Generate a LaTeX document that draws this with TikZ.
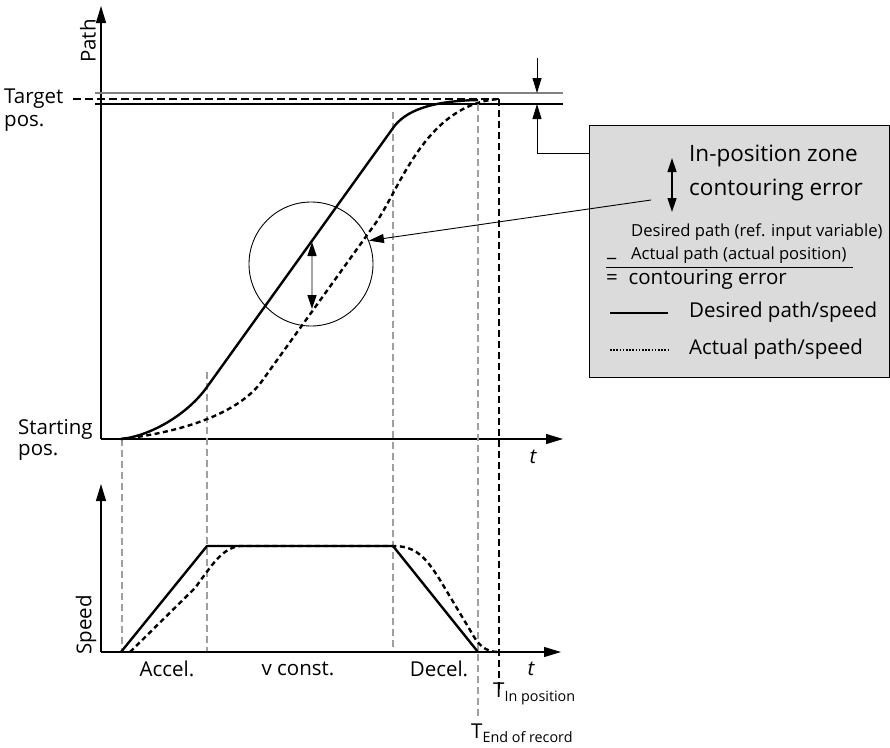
\documentclass[tikz,border=0pt]{standalone}
\usepackage{fontspec}
\setmainfont{Open Sans}
\usetikzlibrary{arrows.meta}
\begin{document}
\begin{tikzpicture}[x=1pt,y=-1pt,
  ax/.style={line width=1.2pt,-{Triangle[length=17pt,width=10pt]}},
  vdash/.style={gray!75,line width=1.1pt,dash pattern=on 7pt off 4pt},
  vdashk/.style={black,line width=1.1pt,dash pattern=on 7pt off 4pt},
  curve/.style={line width=2.4pt,line join=round},
  dcurve/.style={line width=2.4pt,dash pattern=on 5pt off 3.5pt},
  lbl/.style={font=\fontsize{20.5}{24}\selectfont,inner sep=0pt},
  blbl/.style={font=\fontsize{22.5}{26}\selectfont,inner sep=0pt},
  slbl/.style={font=\fontsize{16.6}{19}\selectfont,inner sep=0pt},
  tip/.style={-{Triangle[length=15pt,width=9pt]}},
  dtip/.style={{Triangle[length=14pt,width=9pt]}-{Triangle[length=14pt,width=9pt]}},
]
\useasboundingbox (0,0) rectangle (890,747);
% ---------- upper axes
\coordinate (o1) at (101,439);
\coordinate (y1) at (101,6);
\coordinate (x1) at (563,439);
\draw[ax] (o1) -- (y1);
\draw[ax] (o1) -- (x1);
\node[lbl,rotate=90] (path) at (88,41) {Path};
\node[lbl,anchor=west] (tgt) at (4,99) {Target};
\node[lbl,anchor=west] (tgtp) at (4,123) {pos.};
\node[lbl,anchor=west] (st) at (18,429) {Starting};
\node[lbl,anchor=west] (stp) at (18,452) {pos.};
\node[lbl,font=\fontsize{20.5}{24}\selectfont\itshape] (t1) at (533,457) {t};
% ---------- horizontal lines at target
\coordinate (g0) at (95,93);  \coordinate (g1) at (563,93);
\coordinate (b0) at (95,104); \coordinate (b1) at (563,104);
\coordinate (d0) at (73,99);  \coordinate (d1) at (499,99);
\draw[gray,line width=1.6pt] (g0) -- (g1);
\draw[line width=1.2pt] (b0) -- (b1);
\draw[line width=1.1pt,dash pattern=on 8pt off 4pt] (d0) -- (d1);
% ---------- vertical dashed lines
\coordinate (va0) at (122,439); \coordinate (va1) at (122,652);
\coordinate (vb0) at (207,372); \coordinate (vb1) at (207,652);
\coordinate (vc0) at (393,112); \coordinate (vc1) at (393,652);
\coordinate (vd0) at (478,104); \coordinate (vd1) at (478,716);
\coordinate (ve0) at (499,99);  \coordinate (ve1) at (499,690);
\draw[vdash] (va0) -- (va1);
\draw[vdash] (vb0) -- (vb1);
\draw[vdash] (vc0) -- (vc1);
\draw[vdash] (vd0) -- (vd1);
\draw[vdashk] (ve0) -- (ve1);
% ---------- upper curves
\coordinate (s0) at (121,439);
\coordinate (s1) at (207,387);
\coordinate (s2) at (393,128);
\coordinate (s3) at (478,100);
\draw[curve] (s0) .. controls (150,436) and (187,415) .. (s1) -- (s2)
  .. controls (405,111) and (430,101) .. (s3);
\coordinate (q1) at (262,381);
\coordinate (q2) at (375,224);
\coordinate (q3) at (499,99);
\draw[dcurve] (s0) .. controls (185,432) and (240,412) .. (q1) -- (q2)
  .. controls (399,191) and (425,104) .. (q3);
% ---------- circle (magnifier)
\node[draw,circle,line width=0.9pt,minimum size=124pt,inner sep=0pt] (circ) at (311,264) {};
\coordinate (ca) at (312,242);
\coordinate (cb) at (312,309);
\draw[gray!70,line width=1.4pt,{Triangle[length=14pt,width=9pt,color=black]}-{Triangle[length=14pt,width=9pt,color=black]}] (ca) -- (cb);
% ---------- target zone arrows
\coordinate (za) at (537,58);
\coordinate (zt) at (537,93);
\coordinate (zb) at (537,104);
\coordinate (zc) at (537,153);
\coordinate (zd) at (672,153);
\draw[line width=1pt,tip] (za) -- (zt);
\draw[line width=1pt,tip] (zd) -- (zc) -- (zb);
% ---------- legend box
\node[draw,fill=black!14,line width=0.9pt,minimum width=300pt,minimum height=252pt,anchor=north west,inner sep=0pt] (box) at (589,125) {};
\coordinate (ia) at (672,158);
\coordinate (ib) at (672,212);
\draw[line width=1.2pt,dtip] (ia) -- (ib);
\node[blbl,anchor=west] (ipz) at (689,156) {In-position zone};
\node[blbl,anchor=west] (ce) at (689,190) {contouring error};
\coordinate (la) at (651,200);
\draw[line width=0.9pt,tip] (la) -- (circ.22);
\node[slbl,anchor=west] (dp) at (631,232) {Desired path (ref. input variable)};
\node[slbl,anchor=west] (ap) at (631,255) {Actual path (actual position)};
\node[lbl,anchor=west] (minus) at (607,258) {\_};
\coordinate (u0) at (606,267); \coordinate (u1) at (853,267);
\draw[line width=1pt] (u0) -- (u1);
\node[lbl,anchor=west] (eq) at (606,279) {=\ \ contouring error};
\coordinate (l0) at (610,313); \coordinate (l1) at (668,313);
\draw[line width=2pt] (l0) -- (l1);
\node[lbl,anchor=west] (dps) at (689,312) {Desired path/speed};
\coordinate (m0) at (610,350); \coordinate (m1) at (668,350);
\draw[line width=2pt,dash pattern=on 1.6pt off 1.6pt] (m0) -- (m1);
\node[lbl,anchor=west] (aps) at (689,349) {Actual path/speed};
% ---------- lower axes
\coordinate (o2) at (101,652);
\coordinate (y2) at (101,484);
\coordinate (x2) at (561,652);
\draw[ax] (o2) -- (y2);
\draw[ax] (o2) -- (x2);
\node[lbl,rotate=90] (spd) at (86,625) {Speed};
\node[lbl] (acc) at (167,669) {Accel.};
\node[lbl] (vc) at (298,669) {v const.};
\node[lbl] (dec) at (439,669) {Decel.};
\node[lbl,font=\fontsize{20.5}{24}\selectfont\itshape] (t2) at (531,669) {t};
\node[lbl,anchor=west] (tin) at (493,694) {T\textsubscript{In position}};
\node[lbl,anchor=west] (tend) at (471,733) {T\textsubscript{End of record}};
% ---------- speed curves
\coordinate (p0) at (121,652);
\coordinate (p1) at (207,546);
\coordinate (p2) at (393,546);
\coordinate (p3) at (478,652);
\draw[curve] (p0) -- (p1) -- (p2) -- (p3);
\coordinate (r0) at (130,652);
\coordinate (r1) at (240,546);
\coordinate (r2) at (499,652);
\draw[dcurve] (r0) -- (195,588) .. controls (212,565) and (222,548) .. (r1) -- (p2)
  .. controls (415,546) and (425,556) .. (440,580) -- (470,630)
  .. controls (478,645) and (485,652) .. (r2);
\end{tikzpicture}
\end{document}
